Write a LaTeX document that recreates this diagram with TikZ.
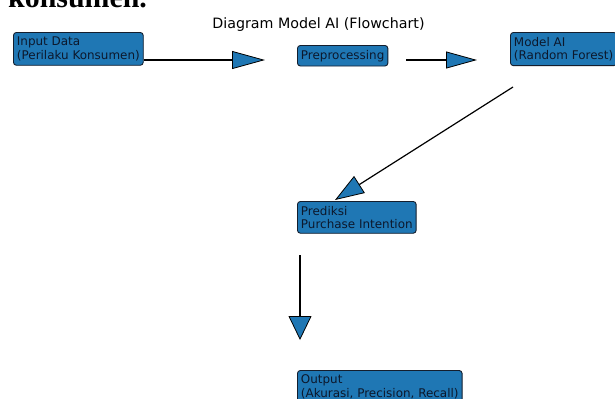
\documentclass[tikz,border=0pt]{standalone}
\usepackage{fontspec}
\setmainfont{DejaVu Sans}
\newfontfamily\serifbold{Liberation Serif}
\usetikzlibrary{arrows.meta}
\definecolor{tabblue}{HTML}{1F77B4}
\definecolor{boxtext}{RGB}{12,24,44}
\definecolor{boxedge}{RGB}{20,30,45}
\begin{document}
\begin{tikzpicture}[x=1bp,y=-1bp,
  flowbox/.style={draw=boxedge, line width=0.9bp, fill=tabblue, rounded corners=3bp,
    anchor=north west, align=left, inner xsep=3.5bp, inner ysep=4.5bp, text=boxtext,
    font=\fontsize{12}{13.6}\selectfont},
  shaft/.style={draw=black, line width=1.2bp},
  headtip/.style 2 args={-{Triangle[length=#1,width=#2,fill=tabblue,line width=0.8bp]}}
]
\useasboundingbox (0,0) rectangle (615,398);
\clip (0,0) rectangle (615,398);
\fill[white] (0,0) rectangle (615,398);

\node[font=\serifbold\bfseries\fontsize{30}{32}\selectfont, anchor=base west, inner sep=0] (frag) at (8,7) {konsumen.};
\node[font=\fontsize{14.3}{16}\selectfont, anchor=base, inner sep=0] (title) at (318.5,28) {Diagram Model AI (Flowchart)};

\node[flowbox] (input) at (13,32) {Input Data\\(Perilaku Konsumen)};
\node[flowbox] (prep) at (297,45) {Preprocessing};
\node[flowbox] (model) at (510,32) {Model AI\\(Random Forest)};
\node[flowbox] (pred) at (297,201) {Prediksi\\Purchase Intention};
\node[flowbox] (out) at (297,370) {Output\\(Akurasi, Precision, Recall)};

\coordinate (h1) at (265,60);
\coordinate (t2) at (406,60);
\coordinate (h2) at (477,60);
\coordinate (t3) at (513,87);
\coordinate (h3) at (335,200);
\coordinate (t4) at (300,255);
\coordinate (h4) at (300,340);

\draw[shaft, headtip={33bp}{18bp}] (input.east |- h1) -- (h1);
\draw[shaft, headtip={31bp}{17bp}] (t2) -- (h2);
\draw[shaft, headtip={29bp}{20bp}] (t3) -- (h3);
\draw[shaft, headtip={24bp}{23bp}] (t4) -- (h4);
\end{tikzpicture}
\end{document}
